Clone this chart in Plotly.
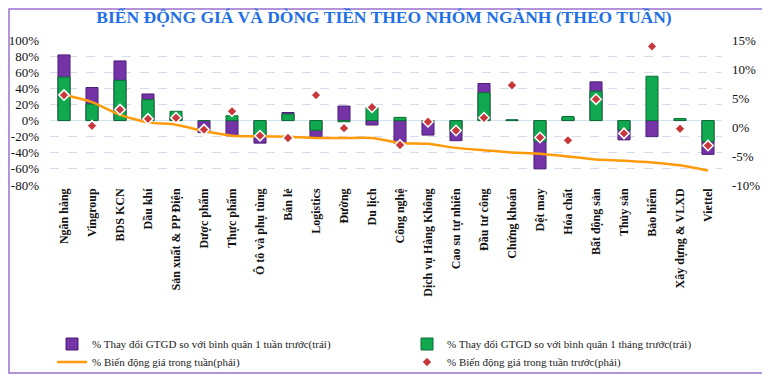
import plotly.graph_objects as go

categories = ["Ngân hàng", "Vingroup", "BDS KCN", "Dầu khí", "Sản xuất & PP Điện", "Dược phẩm",
              "Thực phẩm", "Ô tô và phụ tùng", "Bán lẻ", "Logistics", "Đường", "Du lịch",
              "Công nghệ", "Dịch vụ Hàng Không", "Cao su tự nhiên", "Đầu tư công", "Chứng khoán",
              "Dệt may", "Hóa chất", "Bất động sản", "Thủy sản", "Bảo hiểm", "Xây dựng & VLXD", "Viettel"]

# % change of trading value vs 1-week average (left axis)
week_chg = [81.5, 41, 74, 33, 5, -15, -19, -28, 10, -20, 18, -5.5,
            -28, -18, -25, 46, 0.5, -60, 3, 48, -24, -20, 1, -42]
# % change of trading value vs 1-month average (left axis)
month_chg = [54, 20.5, 50, 26, 11.5, 0, 6, -19, 8, -12, -1.5, 16.5,
             4, 0, -13.5, 34.5, 1, -26, 5, 36.5, -11.5, 55, 2.5, -26]
# price change this week (right axis)
price_week = [5.55, 4.3, 2.1, 0.8, 0.4, -0.7, -1.5, -1.6, -1.7, -1.9, -1.9, -1.9,
              -2.75, -2.9, -3.6, -4.0, -4.4, -4.6, -5.1, -5.6, -5.8, -6.1, -6.6, -7.5]
# price change previous week (right axis)
price_prev = [5.5, 0.2, 3.0, 1.4, 1.6, -0.45, 2.7, -1.5, -1.9, 5.5, -0.2, 3.4,
              -3.1, 0.9, -0.6, 1.6, 7.2, -1.8, -2.3, 4.8, -1.1, 13.9, -0.3, -3.2]

left_ticks = list(range(-80, 101, 20))
right_ticks = list(range(-10, 16, 5))

# page body has an 8px margin; the figure is sized to fill the rest of the window
OFF = 8
W, H = 770 - OFF, 376 - OFF
ML, MR, MT, MB = 50 - OFF, 48, 40 - OFF, 191
serif = "Liberation Serif, Times New Roman, serif"

fig = go.Figure()
fig.add_trace(go.Bar(
    x=categories, y=week_chg, name="% Thay đổi GTGD so với bình quân 1 tuần trước(trái)",
    marker=dict(color="#7434A8", line=dict(color="#4A1D72", width=1)),
    width=0.43, legend="legend"))
fig.add_trace(go.Bar(
    x=categories, y=month_chg, name="% Thay đổi GTGD so với bình quân 1 tháng trước(trái)",
    marker=dict(color="#10A94F", line=dict(color="#0A6E33", width=1)),
    width=0.43, legend="legend2"))
fig.add_trace(go.Scatter(
    x=categories, y=price_week, name="% Biến động giá trong tuần(phải)", yaxis="y2",
    mode="lines", line=dict(color="#FF9A0A", width=2.5, shape="spline", smoothing=0.6),
    legend="legend3"))
fig.add_trace(go.Scatter(
    x=categories, y=price_prev, name="% Biến động giá trong tuần trước(phải)", yaxis="y2",
    mode="markers", marker=dict(symbol="diamond", size=8, color="#C8373B",
                                line=dict(color="white", width=1.5)),
    legend="legend4"))

# absolute page pixel -> container fraction
def cx(p):
    return (p - OFF) / W
def cy(p):
    return 1 - (p - OFF) / H

pw = W - ML - MR
ph = H - MT - MB
def px_x(p):
    return (p - OFF - ML) / pw
def px_y(p):
    return (H - MB - (p - OFF)) / ph

leg_common = dict(orientation="h", xanchor="left", yanchor="middle",
                  xref="container", yref="container",
                  font=dict(family=serif, size=11, color="#222"),
                  bgcolor="rgba(0,0,0,0)", itemwidth=30)

fig.update_layout(
    width=W, height=H,
    margin=dict(l=ML, r=MR, t=MT, b=MB, autoexpand=False),
    paper_bgcolor="white", plot_bgcolor="white",
    barmode="overlay",
    title=dict(text="<b>BIẾN ĐỘNG GIÁ VÀ DÒNG TIỀN THEO NHÓM NGÀNH (THEO TUẦN)</b>",
               xref="container", yref="container",
               x=cx(384), xanchor="center", y=cy(17), yanchor="middle",
               font=dict(family=serif, size=17.5, color="#1F6FE5")),
    xaxis=dict(range=[-0.5, len(categories) - 0.5],
               tickangle=-90, tickfont=dict(family=serif, size=12, color="#111"),
               showgrid=False, showline=False, ticks="",
               tickprefix="<b>", ticksuffix="</b>"),
    yaxis=dict(range=[-80, 100], tickvals=left_ticks, ticktext=[f"{v}%" for v in left_ticks],
               tickfont=dict(family=serif, size=13, color="#111"), ticklabelstandoff=10,
               showgrid=True, gridcolor="#D7DCEC", griddash="dash", gridwidth=1,
               zeroline=True, zerolinecolor="#D2E2EC", zerolinewidth=1, ticks=""),
    yaxis2=dict(range=[-10, 15], tickvals=right_ticks, ticktext=[f"{v}%" for v in right_ticks],
                overlaying="y", side="right", showgrid=False, zeroline=False,
                ticklabelstandoff=9,
                tickfont=dict(family=serif, size=13, color="#111"), ticks=""),
    legend=dict(x=cx(52), y=cy(344), **leg_common),
    legend2=dict(x=cx(407), y=cy(344), **leg_common),
    legend3=dict(x=cx(52), y=cy(362), **leg_common),
    legend4=dict(x=cx(407), y=cy(362), **leg_common),
    showlegend=True,
    shapes=[dict(type="rect", xref="paper", yref="paper",
                 x0=px_x(9), x1=px_x(768), y0=px_y(373), y1=px_y(9),
                 line=dict(color="#9B72CF", width=1.5), fillcolor="rgba(0,0,0,0)", layer="below")],
)

fig.write_html("out.html")
